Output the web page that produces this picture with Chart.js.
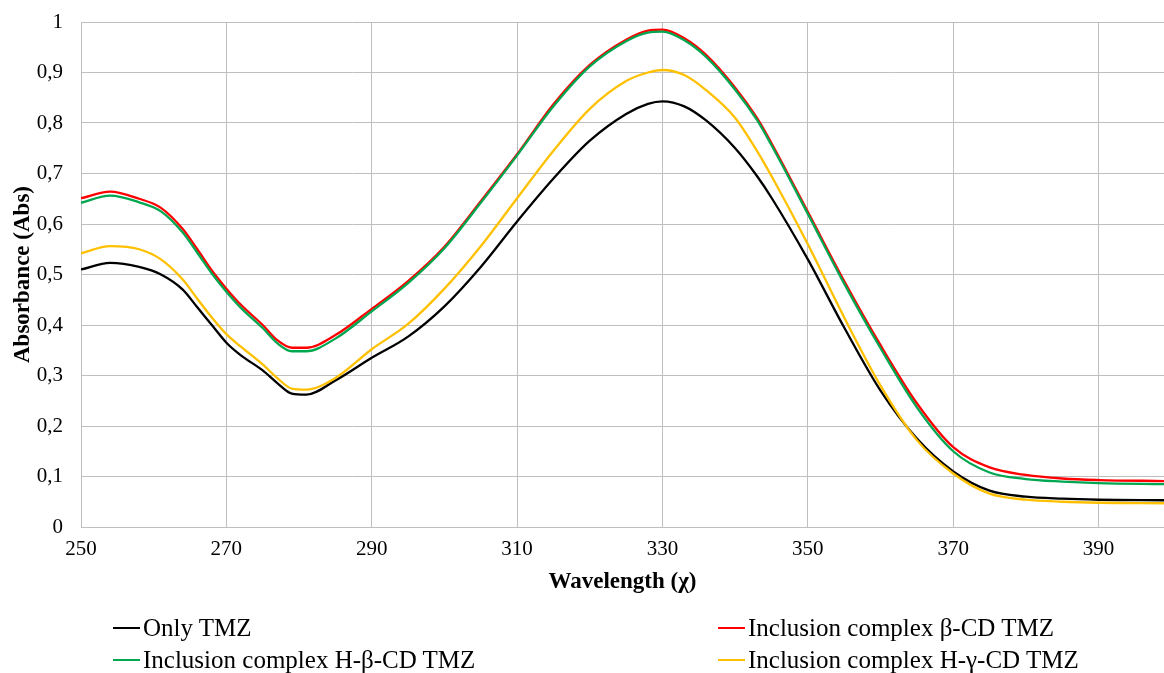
<!DOCTYPE html>
<html>
<head>
<meta charset="utf-8">
<script src="https://cdn.jsdelivr.net/npm/chart.js@4/dist/chart.umd.min.js"></script>
<style>
  html, body { margin: 0; padding: 0; background: #fff; }
  #wrap { position: relative; width: 1164px; height: 673px; }
  #legend { position: absolute; left: 0; top: 0; width: 1164px; height: 673px; pointer-events: none;
            font-family: "Liberation Serif", "Times New Roman", serif; font-size: 25px; color: #000; }
  .item { position: absolute; white-space: nowrap; line-height: 28px; }
  .item span.swatch { display: inline-block; width: 27px; height: 2px; vertical-align: middle; margin-right: 3px; position: relative; top: -2px; }
</style>
</head>
<body>
<div id="wrap">
  <canvas id="chart" width="1164" height="673"></canvas>
  <div id="legend"></div>
</div>
<script>
// wavelength (nm)
const wavelengths = [250, 254, 258, 261, 264, 266, 268, 270, 272, 275, 277, 279, 281, 285, 290, 295, 300, 305, 310, 315,
  320, 325, 328, 330, 333, 336, 340, 343, 345, 350, 355, 360, 365, 370, 375, 380, 385, 390, 399];

// absorbance per sample
const onlyTMZ = [0.510, 0.523, 0.515, 0.500, 0.470, 0.435, 0.400, 0.365, 0.340, 0.310, 0.285, 0.264, 0.262, 0.290, 0.335, 0.377, 0.437, 0.515, 0.605, 0.690,
  0.765, 0.818, 0.838, 0.843, 0.833, 0.805, 0.750, 0.695, 0.652, 0.530, 0.395, 0.270, 0.175, 0.110, 0.072, 0.060, 0.056, 0.054, 0.053];
const betaCD = [0.651, 0.664, 0.650, 0.632, 0.590, 0.550, 0.508, 0.472, 0.440, 0.400, 0.370, 0.355, 0.355, 0.380, 0.432, 0.487, 0.555, 0.645, 0.738, 0.837,
  0.915, 0.965, 0.983, 0.985, 0.968, 0.935, 0.870, 0.810, 0.760, 0.624, 0.487, 0.360, 0.245, 0.158, 0.118, 0.103, 0.096, 0.093, 0.091];
const hBetaCD = [0.642, 0.656, 0.643, 0.625, 0.583, 0.543, 0.502, 0.466, 0.434, 0.394, 0.364, 0.348, 0.348, 0.373, 0.427, 0.483, 0.552, 0.642, 0.736, 0.833,
  0.912, 0.962, 0.979, 0.981, 0.964, 0.931, 0.866, 0.806, 0.756, 0.620, 0.482, 0.354, 0.237, 0.150, 0.108, 0.095, 0.090, 0.087, 0.085];
const hGammaCD = [0.542, 0.556, 0.550, 0.530, 0.490, 0.452, 0.415, 0.382, 0.357, 0.322, 0.295, 0.274, 0.272, 0.295, 0.352, 0.402, 0.472, 0.556, 0.651, 0.745,
  0.828, 0.883, 0.900, 0.905, 0.895, 0.865, 0.810, 0.745, 0.695, 0.560, 0.415, 0.280, 0.172, 0.106, 0.066, 0.054, 0.050, 0.048, 0.047];

const seriesNames = ['Only TMZ', 'Inclusion complex β-CD TMZ', 'Inclusion complex H-β-CD TMZ', 'Inclusion complex H-γ-CD TMZ'];
const seriesColors = ['#000000', '#ff0000', '#00a650', '#ffc000'];
const seriesValues = [onlyTMZ, betaCD, hBetaCD, hGammaCD];

const xTicks = [250, 270, 290, 310, 330, 350, 370, 390];
const yTicks = [0, 0.1, 0.2, 0.3, 0.4, 0.5, 0.6, 0.7, 0.8, 0.9, 1];

const serif = '"Liberation Serif", "Times New Roman", serif';
const gridColor = '#bfbfbf';

const datasets = seriesValues.map((vals, i) => ({
  label: seriesNames[i],
  data: wavelengths.map((w, k) => ({ x: w, y: vals[k] })),
  borderColor: seriesColors[i],
  backgroundColor: seriesColors[i],
  borderWidth: 2.3,
  pointRadius: 0,
  cubicInterpolationMode: 'monotone',
  order: 4 - i   // excel draws later series on top
}));

new Chart(document.getElementById('chart'), {
  type: 'line',
  data: { datasets: datasets },
  options: {
    responsive: false,
    animation: false,
    events: [],
    layout: { padding: { top: 22, right: 0, bottom: 77, left: 0 } },
    plugins: { legend: { display: false }, tooltip: { enabled: false } },
    scales: {
      x: {
        type: 'linear',
        min: 250,
        max: 399,
        afterBuildTicks: (axis) => { axis.ticks = xTicks.map(v => ({ value: v })); },
        afterFit: (scale) => { scale.height = 69; },
        grid: { color: gridColor, lineWidth: 1, drawTicks: false },
        border: { color: gridColor, width: 1 },
        ticks: { padding: 10, color: '#000', maxRotation: 0, font: { family: serif, size: 21 } },
        title: { display: true, text: 'Wavelength (χ)', color: '#000', padding: { top: 4, bottom: 0 },
                 font: { family: serif, size: 23, weight: 'bold' } }
      },
      y: {
        min: 0,
        max: 1,
        afterBuildTicks: (axis) => { axis.ticks = yTicks.map(v => ({ value: v })); },
        afterFit: (scale) => { scale.width = 81; },
        // invisible tick marks push the labels left without padding the top
        grid: { color: gridColor, lineWidth: 1, drawTicks: true, tickLength: 14, tickColor: 'rgba(0,0,0,0)' },
        border: { color: gridColor, width: 1 },
        ticks: { padding: 4, color: '#000', font: { family: serif, size: 21 },
                 callback: (v) => String(Math.round(v * 10) / 10).replace('.', ',') },
        title: { display: true, text: 'Absorbance (Abs)', color: '#000', padding: { top: 9, bottom: 0 },
                 font: { family: serif, size: 23, weight: 'bold' } }
      }
    }
  }
});

// legend laid out like the excel one: two columns, two rows
const legendPos = [[113, 614], [718, 614], [113, 646], [718, 646]];
const legend = document.getElementById('legend');
seriesNames.forEach((name, i) => {
  const div = document.createElement('div');
  div.className = 'item';
  div.style.left = legendPos[i][0] + 'px';
  div.style.top = legendPos[i][1] + 'px';
  div.innerHTML = '<span class="swatch" style="background:' + seriesColors[i] + '"></span>';
  div.appendChild(document.createTextNode(name));
  legend.appendChild(div);
});
</script>
</body>
</html>
